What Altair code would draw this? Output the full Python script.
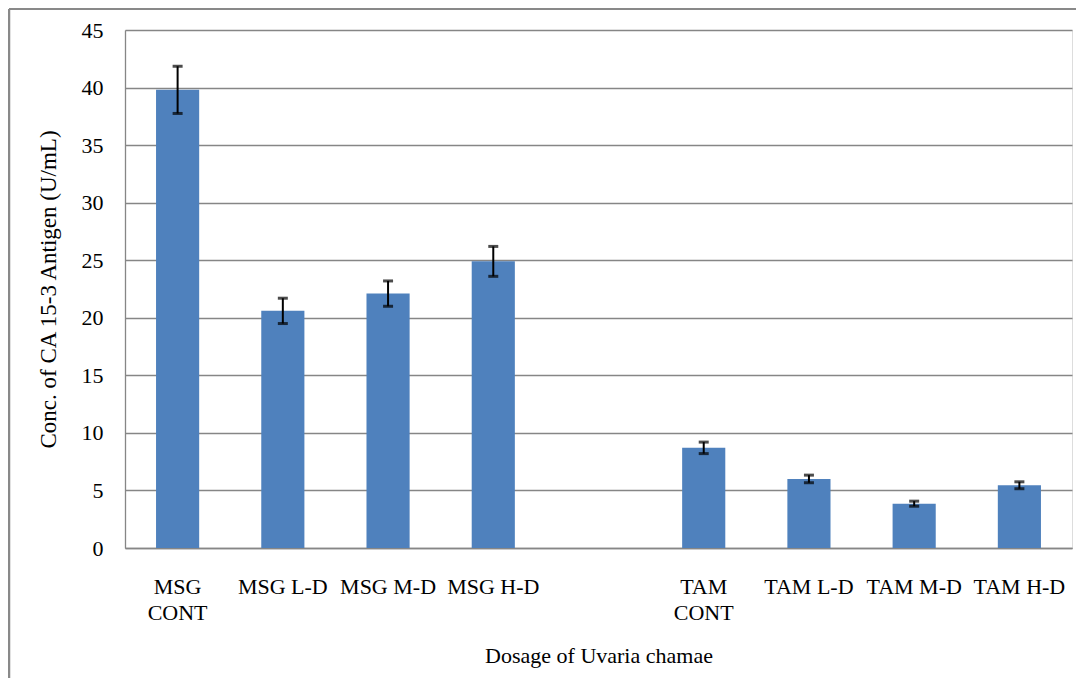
import altair as alt
import pandas as pd

categories = ["MSG|CONT", "MSG L-D", "MSG M-D", "MSG H-D",
              "TAM|CONT", "TAM L-D", "TAM M-D", "TAM H-D"]
values = [39.8, 20.6, 22.1, 24.9, 8.7, 6.0, 3.85, 5.45]
errors = [2.05, 1.1, 1.1, 1.3, 0.5, 0.33, 0.22, 0.3]
y_ticks = [0, 5, 10, 15, 20, 25, 30, 35, 40, 45]

# slot order with one empty gap between the two groups
slots = categories[:4] + [" "] + categories[4:]

df = pd.DataFrame({
    "cat": categories,
    "value": values,
    "lo": [v - e for v, e in zip(values, errors)],
    "hi": [v + e for v, e in zip(values, errors)],
})

FONT = "Liberation Serif"
GRID = "#868686"

x_enc = alt.X(
    "cat:N",
    sort=slots,
    scale=alt.Scale(domain=slots, paddingInner=0.59, paddingOuter=0.295),
    axis=alt.Axis(
        title="Dosage of Uvaria chamae",
        labelAngle=0,
        labelExpr="split(datum.label, '|')",
        labelBaseline="top",
        labelPadding=28,
        labelLineHeight=26,
        labelFontSize=22,
        labelFont=FONT,
        labelColor="black",
        ticks=False,
        domainColor=GRID,
        domainWidth=1.3,
        titleFont=FONT,
        titleFontSize=22,
        titleFontWeight="normal",
        titleColor="black",
        titleX=473.5,
        titleY=107,
        titleAlign="center",
        titleBaseline="middle",
    ),
)

y_scale = alt.Scale(domain=[0, 45], nice=False)

bars = alt.Chart(df).mark_bar(color="#4F81BD").encode(
    x=x_enc,
    y=alt.Y(
        "value:Q",
        scale=y_scale,
        axis=alt.Axis(
            title="Conc. of CA 15-3 Antigen (U/mL)",
            values=y_ticks,
            grid=True,
            gridColor=GRID,
            gridWidth=1.3,
            ticks=False,
            domainColor=GRID,
            domainWidth=1.3,
            labelFont=FONT,
            labelFontSize=22,
            labelColor="black",
            labelPadding=22,
            titleFont=FONT,
            titleFontSize=23,
            titleFontWeight="normal",
            titleColor="black",
            titleX=-77,
            titleY=259,
            titleAlign="center",
            titleBaseline="middle",
            titleAngle=-90,
        ),
    ),
)

err_rule = alt.Chart(df).mark_rule(color="black", strokeWidth=2).encode(
    x=alt.X("cat:N", sort=slots),
    y=alt.Y("lo:Q", scale=y_scale),
    y2="hi:Q",
)
cap_lo = alt.Chart(df).mark_tick(color="black", size=10, thickness=3).encode(
    x=alt.X("cat:N", sort=slots),
    y=alt.Y("lo:Q", scale=y_scale),
)
cap_hi = alt.Chart(df).mark_tick(color="black", size=10, thickness=3).encode(
    x=alt.X("cat:N", sort=slots),
    y=alt.Y("hi:Q", scale=y_scale),
)

frame_data = alt.Data(values=[{"k": 1}])
top_border = alt.Chart(frame_data).mark_rule(color="#898989", strokeWidth=2).encode(
    x=alt.value(-116), x2=alt.value(955), y=alt.value(-21)
)
left_border = alt.Chart(frame_data).mark_rule(color="#898989", strokeWidth=2.5).encode(
    x=alt.value(-116), y=alt.value(-21), y2=alt.value(700)
)

chart = alt.layer(bars, err_rule, cap_lo, cap_hi, top_border, left_border).properties(
    width=947,
    height=518,
    autosize=alt.AutoSizeParams(type="none"),
    padding={"left": 117, "top": 22, "right": 4, "bottom": 130},
).configure_view(stroke=None).configure(background="white")

chart.save("out.html", embed_options={"renderer": "svg", "actions": False})
